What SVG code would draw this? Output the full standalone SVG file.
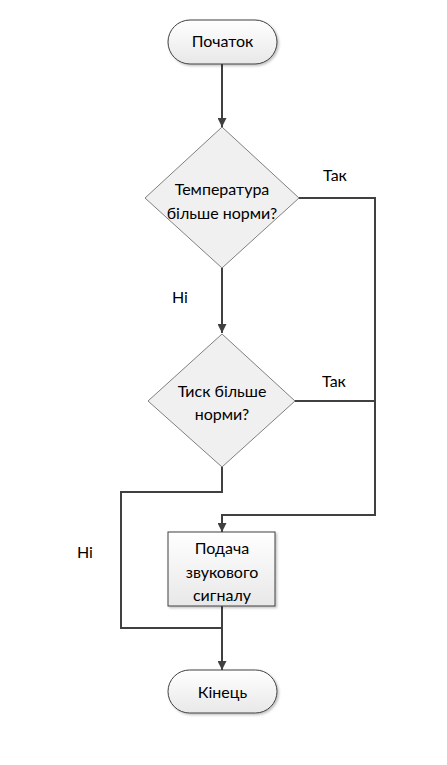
<svg xmlns="http://www.w3.org/2000/svg" width="447" height="765" viewBox="0 0 447 765">
<defs>
<linearGradient id="g" x1="0" y1="0" x2="0" y2="1"><stop offset="0" stop-color="#ffffff"/><stop offset="1" stop-color="#e8e8e8"/></linearGradient>
<filter id="sh" x="-10%" y="-10%" width="130%" height="130%"><feDropShadow dx="1.5" dy="1.5" stdDeviation="1" flood-color="#000" flood-opacity="0.25"/></filter>
<marker id="a" viewBox="0 0 10 10" refX="10" refY="5" markerWidth="9" markerHeight="9" markerUnits="userSpaceOnUse" orient="auto"><path d="M0,0 L10,5 L0,10 z" fill="#404040"/></marker>
</defs>
<style>
.s{fill:url(#g);stroke:#404040;stroke-width:1;filter:url(#sh)}
.d{fill:#f0f0f0;stroke:#7f7f7f;stroke-width:1}
.c{fill:none;stroke:#404040;stroke-width:2}
text{font-family:"Lato","Open Sans",sans-serif;font-size:16px;fill:#000;text-anchor:middle}
.l{text-anchor:start}
</style>
<rect width="447" height="765" fill="#fff"/>
<g id="connectors">
<path class="c" d="M222,64 V127" marker-end="url(#a)"/>
<path class="c" d="M222,268 V333" marker-end="url(#a)"/>
<path class="c" d="M299,198 H375 V515 H222 V532" marker-end="url(#a)"/>
<path class="c" d="M295,401 H375"/>
<path class="c" d="M222,467 V492 H121 V628 H222"/>
<path class="c" d="M222,606 V670" marker-end="url(#a)"/>
</g>
<g id="start"><rect class="s" x="168" y="20" width="109" height="44" rx="22"/><text x="222.5" y="47">Початок</text></g>
<g id="d1"><polygon class="d" points="222,127 299,198 222,268 145,198"/><text x="222" y="195">Температура</text><text x="222" y="219">більше норми?</text></g>
<g id="d2"><polygon class="d" points="222,334 295,401 222,467 148,401"/><text x="222" y="397">Тиск більше</text><text x="222" y="420">норми?</text></g>
<g id="box"><rect class="s" x="168" y="532" width="107" height="74"/><text x="222" y="554">Подача</text><text x="222" y="578">звукового</text><text x="222" y="601">сигналу</text></g>
<g id="end"><rect class="s" x="168" y="670" width="109" height="43" rx="21.5"/><text x="222.5" y="698">Кінець</text></g>
<g id="labels">
<text class="l" x="323" y="181">Так</text>
<text class="l" x="322" y="387">Так</text>
<text class="l" x="172" y="303">Ні</text>
<text class="l" x="77" y="558">Ні</text>
</g>
</svg>
